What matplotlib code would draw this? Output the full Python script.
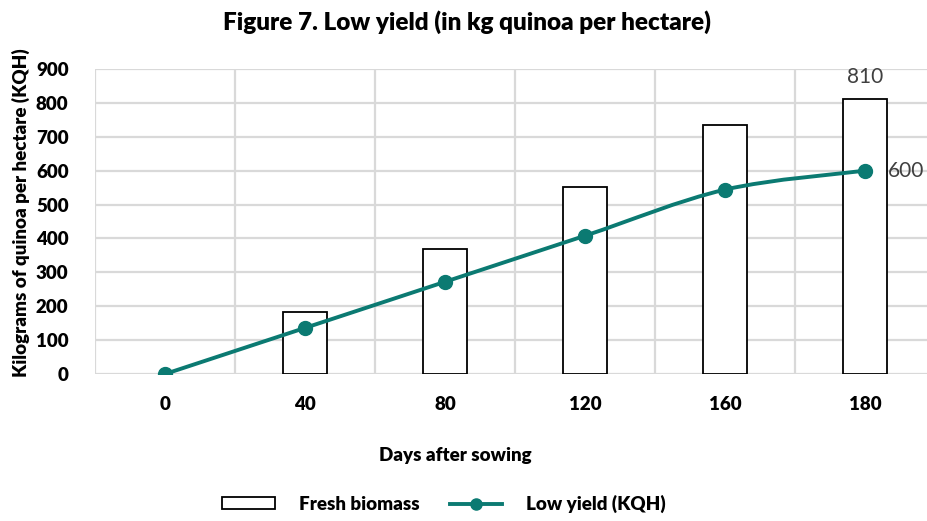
import matplotlib
matplotlib.use("Agg")
import matplotlib.pyplot as plt
from matplotlib.path import Path
from matplotlib.patches import PathPatch, Rectangle
from matplotlib.lines import Line2D
import numpy as np

plt.rcParams['font.family'] = ['Lato', 'DejaVu Sans']

categories = ["0", "40", "80", "120", "160", "180"]
fresh_biomass = [0, 184, 368, 552, 736, 810]
low_yield = [0, 136, 272, 408, 544, 600]
y_ticks = [0, 100, 200, 300, 400, 500, 600, 700, 800, 900]

teal = "#0B7A72"
grid_col = "#D9D9D9"
label_col = "#404040"

fig = plt.figure(figsize=(9.27, 5.21), dpi=100)
ax = fig.add_axes([95/927, (521-374)/521, 840/927, (374-69)/521])

x = np.arange(len(categories))
ax.bar(x[1:], fresh_biomass[1:], width=0.31, facecolor="white", edgecolor="black", linewidth=1.3, zorder=2)

# smooth line (Excel-like) through the data points via Bezier path
pts = np.column_stack([x, low_yield]).astype(float)
verts = [tuple(pts[0])]
codes = [Path.MOVETO]
n = len(pts)
for i in range(n - 1):
    p0 = pts[i - 1] if i > 0 else pts[i]
    p1 = pts[i]
    p2 = pts[i + 1]
    p3 = pts[i + 2] if i + 2 < n else pts[i + 1]
    c1 = p1 + (p2 - p0) / 6
    c2 = p2 - (p3 - p1) / 6
    verts += [tuple(c1), tuple(c2), tuple(p2)]
    codes += [Path.CURVE4] * 3
ax.add_patch(PathPatch(Path(verts, codes), facecolor="none", edgecolor=teal, linewidth=2.8, zorder=3))
ax.plot(x, low_yield, linestyle="none", marker="o", markersize=10, color=teal, zorder=4)

ax.text(x[-1], fresh_biomass[-1] + 36, str(fresh_biomass[-1]), ha="center", va="bottom", fontsize=15, color=label_col)
ax.text(x[-1] + 0.16, low_yield[-1], str(low_yield[-1]), ha="left", va="center", fontsize=15, color=label_col)

ax.set_xlim(-0.5, len(categories) - 0.5)
ax.set_ylim(0, 900)
ax.set_yticks(y_ticks)
ax.set_xticks(x)
ax.set_xticklabels(categories, fontsize=13.5, fontweight="heavy")
ax.set_yticklabels([str(v) for v in y_ticks], fontsize=13.5, fontweight="heavy")
ax.tick_params(length=0, pad=19, axis="y")
ax.tick_params(length=0, pad=16, axis="x")

for v in y_ticks:
    ax.axhline(v, color=grid_col, linewidth=1.6, zorder=0)
for b in np.arange(-0.5, len(categories), 1.0):
    ax.axvline(b, color=grid_col, linewidth=1.6, zorder=0)
for s in ax.spines.values():
    s.set_visible(False)

fig.text(455/927, 1 - 455/521, "Days after sowing", ha="center", va="center", fontsize=13.5, fontweight="heavy")
fig.text(21/927, 1 - 213/521, "Kilograms of quinoa per hectare (KQH)", ha="center", va="center", rotation=90,
         fontsize=13.5, fontweight="heavy")

fig.text(467/927, 1 - 22/521, "Figure 7. Low yield (in kg quinoa per hectare)", ha="center", va="center",
         fontsize=17.5, fontweight="heavy")

handles = [Rectangle((0, 0), 1, 1, facecolor="white", edgecolor="black", linewidth=1.3),
           Line2D([0], [0], color=teal, linewidth=2.8, marker="o", markersize=8)]
fig.legend(handles, ["Fresh biomass", "Low yield (KQH)"], loc="center", bbox_to_anchor=(444/927, 1 - 504/521),
           ncol=2, frameon=False, prop={"weight": "heavy", "size": 13.5}, handlelength=2.8, columnspacing=1.6,
           handletextpad=1.3, handleheight=0.6)

fig.savefig("out.png", dpi=100)
